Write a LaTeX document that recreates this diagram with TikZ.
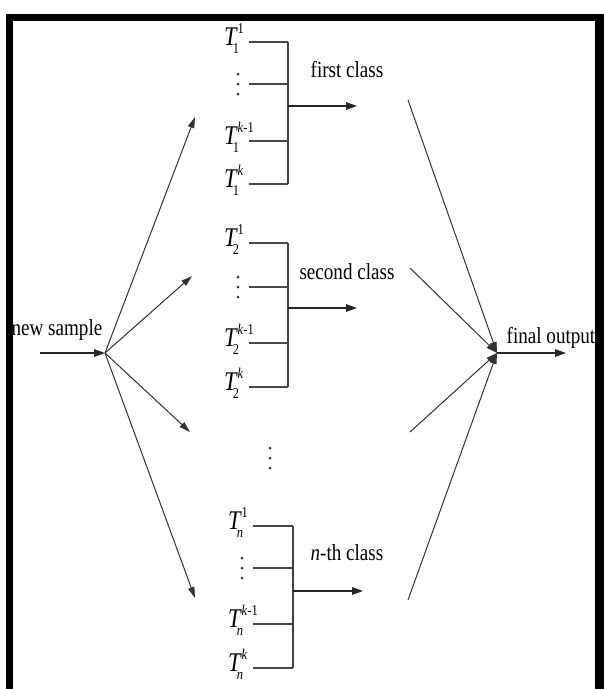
\documentclass[tikz,border=0pt]{standalone}
\usepackage{fontspec}
\setmainfont{Liberation Serif}[FakeStretch=0.83]
\usetikzlibrary{arrows.meta}

% tree label T with a sub- and a superscript
\newcommand{\Tlab}[2]{{\fontsize{27}{27}\selectfont\itshape T}\kern1pt\rlap{\raisebox{12pt}{\fontsize{15}{15}\selectfont #2}}\kern-4.7pt\raisebox{-8pt}{\fontsize{15}{15}\selectfont #1}}

\tikzset{
  tree/.style={line width=1.8pt, draw=black!72},
  spine/.style={line width=1.4pt, draw=black!75},
  flow/.style={line width=1.4pt, draw=black!85, -{Triangle[length=11pt,width=7.5pt]}},
  fan/.style={line width=1pt, draw=black!80, -{Triangle[length=11pt,width=6.5pt]}},
  lab/.style={font=\fontsize{23}{23}\selectfont, inner sep=0pt},
  tl/.style={inner sep=0pt, anchor=base west},
  dotm/.style={fill=black!80, draw=none, circle, minimum size=3pt, inner sep=0pt},
}

\begin{document}
\begin{tikzpicture}[x=1pt,y=-1pt]
\useasboundingbox (0,0) rectangle (604,689);

% frame
\fill[black] (6,14) rectangle (604,689);
\fill[white] (12.5,20.5) rectangle (594.5,689);

% one voting block per class
\foreach \n/\s/\xa/\xb/\ya/\yb/\yc/\yd/\ym/\xe in
  {1/1/249/288/42/84/141/184/106/357,
   2/2/249/288/243/287/343/387/308/357,
   n/\textit{n}/253/293/526/568/624/668/591/363}{
  \node[tl] (T\n a) at ({\xa-25},{\ya+3}) {\Tlab{\s}{1}};
  \node[tl] (T\n c) at ({\xa-25},{\yc+3}) {\Tlab{\s}{\textit{k}-1}};
  \node[tl] (T\n d) at ({\xa-25},{\yd+3}) {\Tlab{\s}{\textit{k}}};
  \node[dotm] (D\n a) at ({\xa-11},{\yb-10}) {};
  \node[dotm] (D\n b) at ({\xa-11},{\yb}) {};
  \node[dotm] (D\n c) at ({\xa-11},{\yb+10}) {};
  \foreach \k/\y in {a/\ya,b/\yb,c/\yc,d/\yd}{
    \coordinate (L\n\k) at (\xa,\y);
    \coordinate (R\n\k) at (\xb,\y);
    \draw[tree] (L\n\k) -- (R\n\k);
  }
  \draw[spine] (R\n a) -- (R\n d);
  \coordinate (M\n) at (\xb,\ym);
  \coordinate (E\n) at (\xe,\ym);
  \draw[flow] (M\n) -- (E\n);
}

\node[lab, anchor=base] (c1) at (347,77) {first class};
\node[lab, anchor=base] (c2) at (347,279) {second class};
\node[lab, anchor=base] (cn) at (347,560) {\textit{n}-th class};

% omitted classes
\node[dotm] (m1) at (270,448) {};
\node[dotm] (m2) at (270,458) {};
\node[dotm] (m3) at (270,468) {};

% input side
\node[lab, anchor=base] (ns) at (57,335) {new sample};
\coordinate (in) at (40,353);
\coordinate (hubL) at (105,353);
\draw[flow] (in) -- (hubL);
\coordinate (tA) at (195,117);
\coordinate (tB) at (192,276);
\coordinate (tC) at (190,432);
\coordinate (tD) at (195,598);
\foreach \t in {tA,tB,tC,tD} \draw[fan] (hubL) -- (\t);

% output side
\coordinate (hubR) at (497,353);
\coordinate (sA) at (408,100);
\coordinate (sB) at (410,268);
\coordinate (sC) at (410,432);
\coordinate (sD) at (408,600);
\foreach \s in {sA,sB,sC,sD} \draw[fan] (\s) -- (hubR);
\coordinate (out) at (566,353);
\draw[flow] (hubR) -- (out);
\node[lab, anchor=base] (fo) at (551,343) {final output};
\end{tikzpicture}
\end{document}
